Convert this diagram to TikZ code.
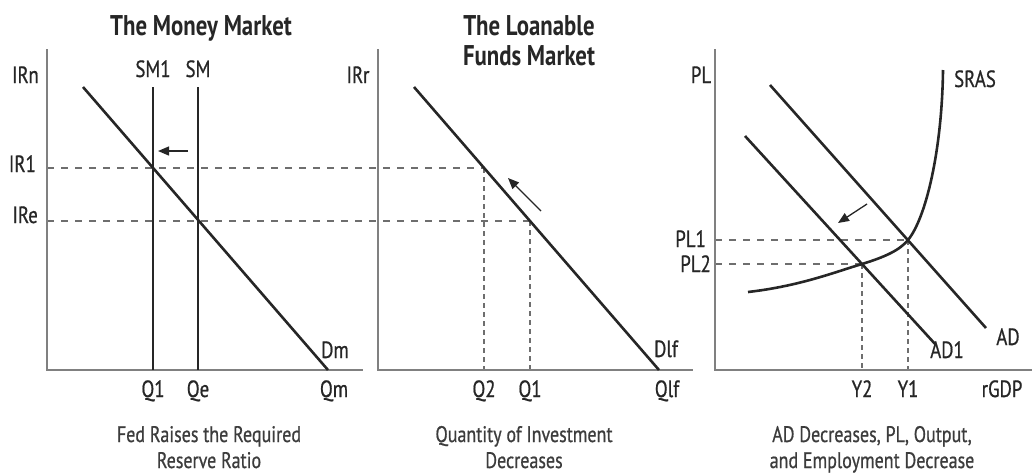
\documentclass[tikz,border=0pt]{standalone}
\usepackage{fontspec}
\setmainfont{PT Sans}[FakeStretch=0.8,UprightFeatures={FakeBold=0.7}]
\usetikzlibrary{arrows.meta,positioning,calc}
\definecolor{AxisGray}{HTML}{808080}
\definecolor{InkDark}{HTML}{262626}
\definecolor{DashGray}{HTML}{6E6E6E}
\definecolor{CapGray}{HTML}{3C3C3C}

\begin{document}
\begin{tikzpicture}[x=1pt,y=-1pt,
    axis/.style={AxisGray,line width=2.2pt},
    curve/.style={InkDark,line width=2.6pt},
    guide/.style={DashGray,line width=1.7pt,dash pattern=on 7pt off 7pt},
    vguide/.style={DashGray,line width=1.7pt,dash pattern=on 5pt off 4pt},
    shiftarrow/.style={InkDark,line width=1.3pt,-{Triangle[length=11pt,width=9pt]}},
    lbl/.style={font=\fontsize{23.5}{26}\selectfont,text=InkDark,inner sep=0pt,anchor=base},
    ttl/.style={font=\fontsize{28.5}{32}\selectfont\bfseries,text=InkDark,inner sep=0pt,anchor=base},
    captxt/.style={font=\fontsize{22.5}{26}\selectfont,text=CapGray,inner sep=0pt,anchor=base},
  ]
  \useasboundingbox (0,0) rectangle (1032,475);

  % ---- the money market ----
  \coordinate (mTop) at (47,49);
  \coordinate (mO) at (47,370);
  \coordinate (mEnd) at (363,370);
  \coordinate (dmA) at (83,87);
  \coordinate (dmB) at (328,370);
  \coordinate (smOneA) at (153,87);
  \coordinate (smOneB) at (153,370);
  \coordinate (smA) at (198,87);
  \coordinate (smB) at (198,370);
  \coordinate (irOne) at (47,168);
  \coordinate (irE) at (47,221);

  % ---- the loanable funds market ----
  \coordinate (lTop) at (378,49);
  \coordinate (lO) at (378,370);
  \coordinate (lEnd) at (693,370);
  \coordinate (dlfA) at (414,87);
  \coordinate (dlfB) at (659,370);
  \coordinate (qTwoP) at (484,168);
  \coordinate (qOneP) at (530,221);
  \coordinate (qTwoB) at (484,370);
  \coordinate (qOneB) at (530,370);

  % ---- AD / AS ----
  \coordinate (aTop) at (715,49);
  \coordinate (aO) at (715,370);
  \coordinate (aEnd) at (1032,370);
  \coordinate (adA) at (770,85);
  \coordinate (adB) at (986,328);
  \coordinate (adOneA) at (745,136);
  \coordinate (adOneB) at (936,345);
  \coordinate (eqOne) at (908,240);
  \coordinate (eqTwo) at (862,264);
  \coordinate (plOne) at (715,240);
  \coordinate (plTwo) at (715,264);
  \coordinate (yOneB) at (908,370);
  \coordinate (yTwoB) at (862,370);

  % guides
  \draw[guide] (irOne) -- (qTwoP);
  \draw[guide] (irE) -- (qOneP);
  \draw[vguide] (qTwoP) -- (qTwoB);
  \draw[vguide] (qOneP) -- (qOneB);
  \draw[guide] (plOne) -- (eqOne);
  \draw[guide] (plTwo) -- (eqTwo);
  \draw[vguide] (eqOne) -- (yOneB);
  \draw[vguide] (eqTwo) -- (yTwoB);

  % axes
  \draw[axis] (mTop) -- (mO) -- (mEnd);
  \draw[axis] (lTop) -- (lO) -- (lEnd);
  \draw[axis] (aTop) -- (aO) -- (aEnd);

  % curves
  \draw[curve] (dmA) -- (dmB);
  \draw[curve] (smOneA) -- (smOneB);
  \draw[curve] (smA) -- (smB);
  \draw[curve] (dlfA) -- (dlfB);
  \draw[curve] (adA) -- (adB);
  \draw[curve] (adOneA) -- (adOneB);
  \draw[curve] (748,292) .. controls (800,286) and (835,272) .. (eqTwo)
    .. controls (885,257) and (900,250) .. (eqOne)
    .. controls (926,218) and (942,150) .. (943,70);

  % shifts
  \coordinate (arMa) at (188,151);
  \coordinate (arMb) at (158,151);
  \coordinate (arLa) at (541,211);
  \coordinate (arLb) at (508,178);
  \coordinate (arAa) at (867,204);
  \coordinate (arAb) at (838,223);
  \draw[shiftarrow] (arMa) -- (arMb);
  \draw[shiftarrow] (arLa) -- (arLb);
  \draw[shiftarrow] (arAa) -- (arAb);

  % labels, money market
  \node[ttl] (tMoney) at (201,35) {The Money Market};
  \node[lbl,anchor=base east] (lIRn) at (39,83) {IRn};
  \node[lbl,anchor=base east] (lIRone) at (36,172) {IR1};
  \node[lbl,anchor=base east] (lIRe) at (38,223) {IRe};
  \node[lbl] (lSMone) at (153,77) {SM1};
  \node[lbl] (lSM) at (198,77) {SM};
  \node[lbl] (lDm) at (335,358) {Dm};
  \node[lbl] (lQone) at (153,397) {Q1};
  \node[lbl] (lQe) at (198,397) {Qe};
  \node[lbl] (lQm) at (334,397) {Qm};
  \node[captxt] (cMoney) at (209,442) {Fed Raises the Required};
  \node[captxt] (cMoneyB) at (209,468) {Reserve Ratio};

  % labels, loanable funds
  \node[ttl] (tLoan) at (529,35) {The Loanable};
  \node[ttl] (tLoanB) at (529,65) {Funds Market};
  \node[lbl] (lIRr) at (358,83) {IRr};
  \node[lbl] (lDlf) at (666,357) {Dlf};
  \node[lbl] (lQtwo) at (484,397) {Q2};
  \node[lbl] (lQoneL) at (530,397) {Q1};
  \node[lbl] (lQlf) at (667,397) {Qlf};
  \node[captxt] (cLoan) at (524,442) {Quantity of Investment};
  \node[captxt] (cLoanB) at (524,468) {Decreases};

  % labels, AD / AS
  \node[lbl] (lPL) at (701,83) {PL};
  \node[lbl] (lSRAS) at (975,87) {SRAS};
  \node[lbl,anchor=base east] (lPLone) at (706,247) {PL1};
  \node[lbl,anchor=base east] (lPLtwo) at (711,272) {PL2};
  \node[lbl] (lAD) at (1008,345) {AD};
  \node[lbl] (lADone) at (947,358) {AD1};
  \node[lbl] (lYtwo) at (862,397) {Y2};
  \node[lbl] (lYone) at (908,397) {Y1};
  \node[lbl] (lrGDP) at (1002,397) {rGDP};
  \node[captxt] (cAD) at (872,442) {AD Decreases, PL, Output,};
  \node[captxt] (cADb) at (872,468) {and Employment Decrease};
\end{tikzpicture}
\end{document}
